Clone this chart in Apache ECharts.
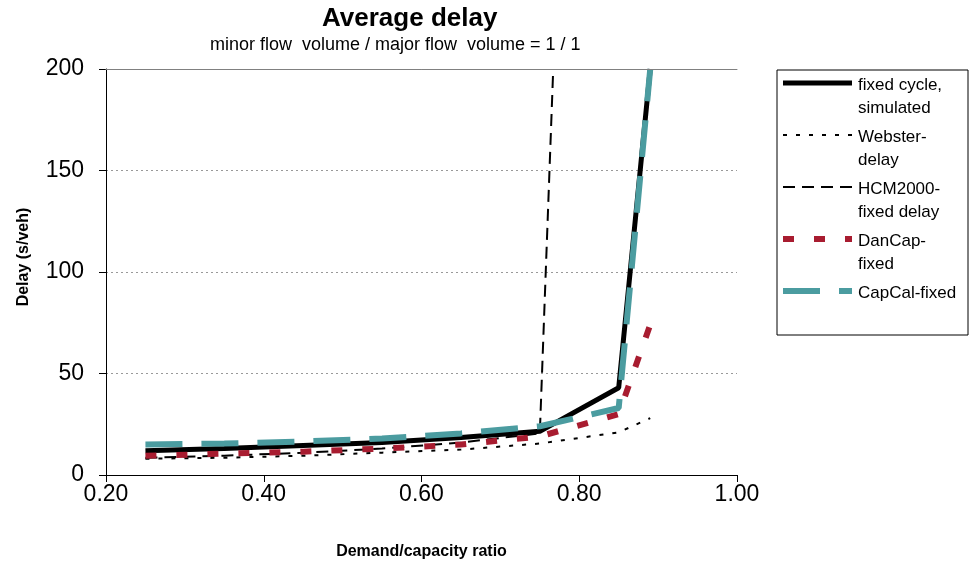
<!DOCTYPE html>
<html>
<head>
<meta charset="utf-8">
<title>Average delay</title>
<script src="https://cdn.jsdelivr.net/npm/echarts@6/dist/echarts.min.js"></script>
<style>
  html, body { margin: 0; padding: 0; background: #fff; }
  #chart { width: 978px; height: 568px; }
</style>
</head>
<body>
<div id="chart"></div>
<script>
// demand/capacity ratios of the points
const ratio = [0.25, 0.35, 0.45, 0.55, 0.65, 0.75, 0.85, 0.89]
const hcmRatio = [0.25, 0.35, 0.45, 0.55, 0.65, 0.75, 0.767]

// delay (s/veh)
const fixedSimulated = [12, 13, 14.5, 16, 18.5, 21.5, 43, 200]
const websterDelay = [8, 8.5, 9.5, 11, 12.5, 15.5, 21, 28]
const hcmDelay = [8.5, 9.5, 11, 13, 16, 20.5, 200]
const danCapFixed = [9.5, 10.5, 11.5, 13, 15, 19, 30, 74]
const capCalFixed = [15, 15.5, 16.5, 18, 20.5, 24, 33, 200]

const yTicks = [0, 50, 100, 150, 200]

const font = 'Liberation Sans, Arial, sans-serif'
const RED = '#a81c30'
const TEAL = '#4b9ca0'

// line looks, shared by series and the legend box
const looks = [
  { name: 'fixed cycle,\nsimulated', color: '#000', width: 5, dash: null },
  { name: 'Webster-\ndelay', color: '#000', width: 2, dash: [4, 9] },
  { name: 'HCM2000-\nfixed delay', color: '#000', width: 2, dash: [12, 7] },
  { name: 'DanCap-\nfixed', color: RED, width: 6, dash: [11, 20] },
  { name: 'CapCal-fixed', color: TEAL, width: 6, dash: [37, 19] }
]

function pairs(xs, ys) {
  return xs.map((x, i) => [x, ys[i]])
}

function lineSeries(look, data, z) {
  return {
    name: look.name,
    type: 'line',
    symbol: 'none',
    data: data,
    lineStyle: { color: look.color, width: look.width, type: look.dash || 'solid' },
    itemStyle: { color: look.color },
    z: z
  }
}

// legend drawn by hand so multi-line labels sit like the original
function legendGraphic() {
  const left = 777, top = 70, w = 191, h = 265
  const els = [{
    type: 'rect',
    shape: { x: left, y: top, width: w, height: h },
    style: { fill: '#fff', stroke: '#000', lineWidth: 1 },
    z: 10
  }]
  looks.forEach((lk, i) => {
    const cy = 83 + i * 52
    els.push({
      type: 'line',
      shape: { x1: 783, y1: cy, x2: 852, y2: cy },
      style: { stroke: lk.color, lineWidth: lk.width, lineDash: lk.dash || null },
      z: 11
    })
    els.push({
      type: 'text',
      x: 858,
      y: cy - 9,
      style: {
        text: lk.name,
        font: '17px ' + font,
        fill: '#000',
        lineHeight: 23,
        verticalAlign: 'top'
      },
      z: 11
    })
  })
  return els
}

const chart = echarts.init(document.getElementById('chart'), null, { renderer: 'canvas' })

chart.setOption({
  backgroundColor: '#fff',
  animation: false,
  textStyle: { fontFamily: font, color: '#000' },
  title: [
    {
      text: 'Average delay',
      left: 317,
      top: 1,
      textStyle: { fontFamily: font, fontSize: 26, fontWeight: 'bold', color: '#000' }
    },
    {
      text: 'minor flow  volume / major flow  volume = 1 / 1',
      left: 205,
      top: 31,
      textStyle: { fontFamily: font, fontSize: 18, fontWeight: 'normal', color: '#000' }
    }
  ],
  grid: {
    left: 106,
    right: 241,
    top: 69,
    bottom: 93
  },
  graphic: legendGraphic(),
  xAxis: [
    {
      type: 'value',
      min: 0.2,
      max: 1.0,
      interval: 0.2,
      name: 'Demand/capacity ratio',
      nameLocation: 'middle',
      nameGap: 69,
      nameTextStyle: { fontFamily: font, fontSize: 16, fontWeight: 'bold', color: '#000' },
      axisLine: { onZero: false, lineStyle: { color: '#000', width: 1 } },
      axisTick: { show: true, inside: false, length: 7, lineStyle: { color: '#000' } },
      axisLabel: {
        fontFamily: font,
        fontSize: 23,
        color: '#000',
        margin: 8,
        formatter: v => v.toFixed(2)
      },
      splitLine: { show: false }
    },
    {
      // plot frame on top
      type: 'value',
      position: 'top',
      min: 0.2,
      max: 1.0,
      axisLine: { show: true, onZero: false, lineStyle: { color: '#808080', width: 1 } },
      axisTick: { show: false },
      axisLabel: { show: false },
      splitLine: { show: false },
      z: 5
    }
  ],
  yAxis: {
    type: 'value',
    min: yTicks[0],
    max: yTicks[yTicks.length - 1],
    interval: 50,
    name: 'Delay (s/veh)',
    nameLocation: 'middle',
    nameGap: 74,
    nameRotate: 90,
    nameTextStyle: {
      fontFamily: font,
      fontSize: 16,
      fontWeight: 'bold',
      color: '#000',
      padding: [0, 0, 0, 30]
    },
    axisLine: { show: true, lineStyle: { color: '#000', width: 1 } },
    axisTick: { show: true, inside: false, length: 7, lineStyle: { color: '#000' } },
    axisLabel: { fontFamily: font, fontSize: 23, color: '#000', margin: 22 },
    splitLine: {
      show: true,
      lineStyle: { color: '#999', width: 1, type: [2, 3] }
    }
  },
  series: [
    lineSeries(looks[1], pairs(ratio, websterDelay), 2),
    lineSeries(looks[2], pairs(hcmRatio, hcmDelay), 2),
    lineSeries(looks[0], pairs(ratio, fixedSimulated), 3),
    lineSeries(looks[3], pairs(ratio, danCapFixed), 4),
    lineSeries(looks[4], pairs(ratio, capCalFixed), 4)
  ]
})
</script>
</body>
</html>
